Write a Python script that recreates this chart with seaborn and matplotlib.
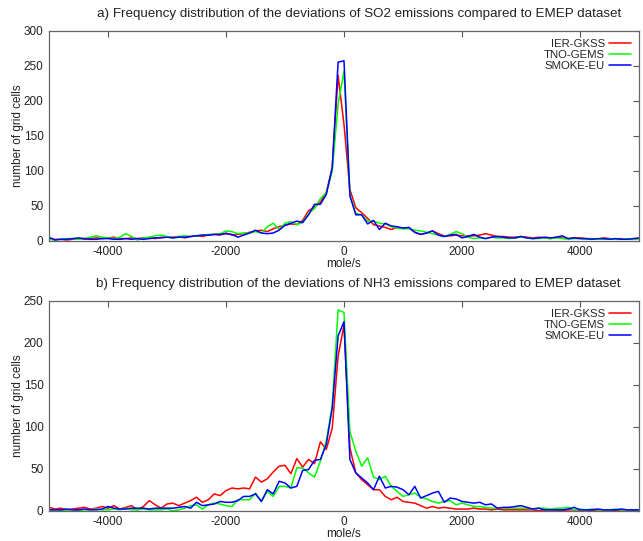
import numpy as np
import pandas as pd
import matplotlib
matplotlib.use("Agg")
import matplotlib.pyplot as plt
import seaborn as sns

# ---------------- data ----------------
bins = list(range(-5000, 5001, 100))
series_names = ["IER-GKSS", "TNO-GEMS", "SMOKE-EU"]
colors = ["#ff0000", "#00ff00", "#0000ff"]

so2_ier = [3, 2, 2, 1, 2, 3, 2, 3, 4, 3,
           4, 5, 3, 3, 4, 3, 4, 4, 3, 5,
           5, 5, 6, 4, 6, 7, 6, 8, 9, 8,
           11, 8, 9, 10, 12, 14, 15, 13, 17, 20,
           22, 24, 23, 29, 43, 48, 55, 69, 104, 236,
           166,
           73, 47, 40, 32, 23, 21, 19, 16, 19, 18,
           18, 12, 9, 11, 14, 10, 7, 7, 8, 7,
           7, 7, 8, 10, 8, 6, 6, 5, 5, 6,
           5, 4, 5, 4, 3, 5, 4, 3, 4, 4,
           3, 3, 2, 4, 3, 2, 3, 2, 2, 3]
so2_tno = [2, 1, 2, 3, 3, 2, 3, 5, 7, 5,
           4, 3, 5, 10, 6, 1, 4, 5, 7, 8,
           6, 4, 6, 7, 6, 7, 8, 9, 9, 10,
           14, 13, 10, 11, 11, 13, 11, 20, 25, 16,
           25, 27, 23, 26, 39, 46, 60, 69, 99, 195,
           242,
           66, 39, 37, 28, 28, 25, 24, 20, 18, 17,
           17, 15, 14, 12, 10, 8, 6, 9, 13, 10,
           5, 3, 4, 3, 5, 4, 4, 3, 4, 5,
           4, 3, 3, 4, 3, 4, 3, 2, 3, 3,
           2, 3, 2, 2, 3, 2, 2, 3, 2, 3]
so2_smoke = [5, 1, 2, 2, 3, 4, 3, 2, 2, 3,
             3, 2, 2, 3, 2, 3, 2, 3, 4, 4,
             5, 4, 5, 5, 6, 7, 8, 8, 9, 9,
             10, 9, 5, 8, 11, 15, 11, 10, 11, 15,
             22, 25, 28, 26, 37, 52, 52, 66, 104, 255,
             257,
             64, 37, 37, 24, 29, 16, 25, 21, 20, 18,
             19, 12, 9, 11, 14, 8, 6, 8, 9, 4,
             6, 9, 5, 3, 5, 6, 5, 4, 4, 6,
             4, 3, 4, 5, 4, 5, 7, 3, 4, 3,
             3, 2, 3, 3, 2, 3, 2, 2, 3, 4]

nh3_ier = [4, 2, 3, 1, 2, 3, 4, 2, 3, 5,
           3, 6, 2, 4, 6, 1, 5, 12, 7, 3,
           8, 9, 6, 9, 12, 16, 10, 13, 20, 18,
           24, 27, 26, 27, 26, 40, 34, 38, 46, 53,
           54, 44, 62, 52, 61, 56, 82, 73, 98, 184,
           221,
           75, 45, 37, 31, 25, 25, 17, 13, 16, 11,
           10, 9, 6, 3, 5, 3, 4, 3, 2, 2,
           2, 3, 2, 2, 1, 2, 1, 1, 1, 1,
           1, 1, 0, 1, 1, 1, 0, 1, 1, 1,
           1, 0, 1, 1, 1, 0, 1, 1, 0, 1]
nh3_tno = [1, 1, 0, 1, 1, 0, 1, 1, 2, 1,
           1, 2, 1, 3, 1, 1, 2, 1, 1, 1,
           2, 0, 1, 3, 6, 7, 2, 7, 9, 8,
           6, 5, 13, 13, 13, 21, 11, 23, 17, 29,
           29, 27, 51, 51, 45, 40, 59, 83, 125, 239,
           236,
           94, 71, 53, 63, 40, 37, 41, 29, 23, 17,
           19, 21, 16, 14, 11, 9, 11, 12, 7, 9,
           7, 5, 5, 4, 3, 3, 3, 3, 3, 3,
           3, 2, 3, 3, 2, 3, 3, 4, 1, 2,
           1, 2, 1, 1, 1, 2, 1, 1, 1, 1]
nh3_smoke = [1, 1, 1, 2, 1, 1, 2, 1, 1, 2,
             5, 3, 2, 2, 3, 3, 3, 2, 3, 3,
             3, 3, 4, 5, 3, 10, 6, 7, 8, 11,
             10, 10, 12, 17, 17, 20, 11, 25, 20, 35,
             33, 27, 29, 48, 49, 60, 61, 79, 122, 208,
             225,
             61, 45, 39, 33, 25, 41, 27, 29, 28, 25,
             19, 29, 15, 18, 21, 23, 10, 15, 14, 11,
             10, 9, 10, 7, 8, 3, 4, 4, 5, 6,
             4, 2, 3, 1, 1, 1, 1, 2, 4, 1,
             1, 1, 2, 1, 1, 1, 2, 1, 1, 1]

x_ticks = [-4000, -2000, 0, 2000, 4000]
y_ticks_a = [0, 50, 100, 150, 200, 250, 300]
y_ticks_b = [0, 50, 100, 150, 200, 250]
titles = ["a) Frequency distribution of the deviations of SO2 emissions compared to EMEP dataset",
          "b) Frequency distribution of the deviations of NH3 emissions compared to EMEP dataset"]


def long_frame(values):
    rows = []
    for name, vals in zip(series_names, values):
        for b, v in zip(bins, vals):
            rows.append({"dev": b, "count": v, "dataset": name})
    return pd.DataFrame(rows)


df_a = long_frame([so2_ier, so2_tno, so2_smoke])
df_b = long_frame([nh3_ier, nh3_tno, nh3_smoke])

# ---------------- style ----------------
sns.set_style("white")
plt.rcParams["font.family"] = ["Liberation Sans", "DejaVu Sans"]
plt.rcParams["axes.unicode_minus"] = False
plt.rcParams["xtick.direction"] = "in"
plt.rcParams["ytick.direction"] = "in"

W, H = 643, 541
fig = plt.figure(figsize=(W / 100, H / 100), dpi=100)
ax_a = fig.add_axes([49 / W, (H - 240.7) / H, 590 / W, 210 / H])
ax_b = fig.add_axes([49 / W, (H - 510.7) / H, 590 / W, 210 / H])

palette = dict(zip(series_names, colors))
fs = 8.5
for ax, df, yt, title in [(ax_a, df_a, y_ticks_a, titles[0]),
                          (ax_b, df_b, y_ticks_b, titles[1])]:
    sns.lineplot(data=df, x="dev", y="count", hue="dataset", palette=palette,
                 hue_order=series_names, ax=ax, linewidth=1.1, legend=True)
    ax.set_xlim(-5000, 5000)
    ax.set_ylim(yt[0], yt[-1])
    ax.set_xticks(x_ticks)
    ax.set_yticks(yt)
    ax.tick_params(axis="both", which="both", direction="in", top=True, right=True,
                   length=4, width=0.8, color="#555555", labelsize=fs,
                   labelcolor="#222222")
    ax.tick_params(axis="x", pad=3.5)
    ax.tick_params(axis="y", pad=4)
    for s in ax.spines.values():
        s.set_color("#666666")
        s.set_linewidth(0.9)
    ax.set_xlabel("mole/s", fontsize=fs, color="#222222", labelpad=0.5)
    ax.set_ylabel("number of grid cells", fontsize=fs, color="#222222", labelpad=-0.5)
    ax.set_title(title, fontsize=9.6, color="#222222", pad=10, x=0.525)
    handles, labels = ax.get_legend_handles_labels()
    ax.legend(handles, labels, loc="upper right", frameon=False, markerfirst=False,
              fontsize=8.2, handlelength=1.9, handletextpad=0.4, labelspacing=0.12,
              borderaxespad=0.3, borderpad=0.4)

fig.savefig("out.png", dpi=100)
